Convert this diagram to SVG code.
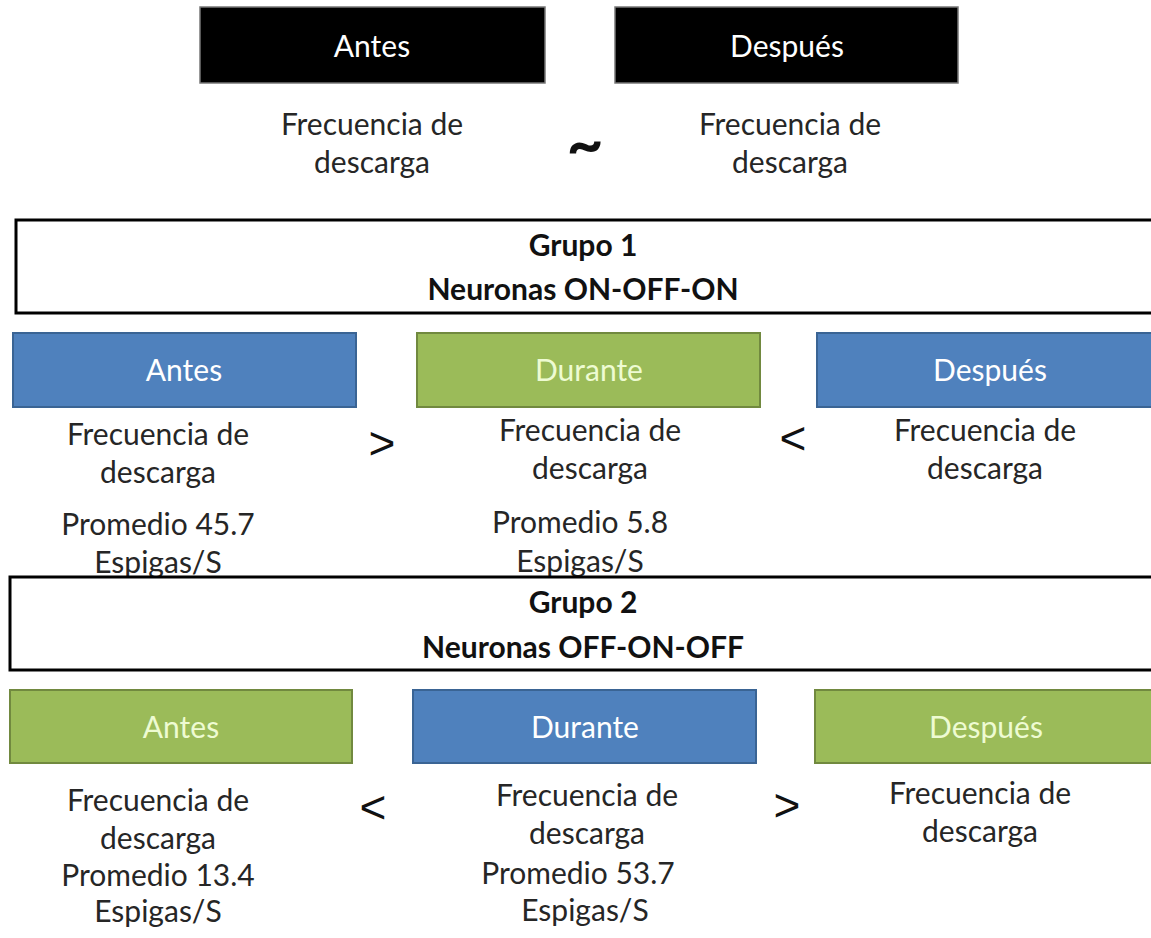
<svg xmlns="http://www.w3.org/2000/svg" width="1151" height="938" viewBox="0 0 1151 938">
<style>
text{font-family:Lato,"Open Sans","Liberation Sans",sans-serif;font-size:30px;text-anchor:middle;fill:#262626}
.lbl{fill:#ffffff}
.glbl{fill:#eefbd2}
.bold{font-weight:bold;fill:#111}
.blk{fill:#000;stroke:#777;stroke-width:1.5}
.blue{fill:#4f81bd;stroke:#3a6494;stroke-width:2}
.green{fill:#9bbb59;stroke:#71893f;stroke-width:2}
.grp{fill:#fff;stroke:#000;stroke-width:3}
.sym{font-family:"Liberation Sans",Arial,sans-serif;font-size:46px;fill:#111}
.tilde{font-size:64px;font-weight:bold;fill:#111}
</style>
<g id="top-antes">
<rect class="blk" x="200" y="7" width="345" height="76"/>
<text class="lbl" x="372" y="57">Antes</text>
<text x="372" y="135">Frecuencia de</text>
<text x="372" y="173">descarga</text>
</g>
<g id="top-despues">
<rect class="blk" x="615" y="7" width="343" height="76"/>
<text class="lbl" x="787" y="57">Después</text>
<text x="790" y="135">Frecuencia de</text>
<text x="790" y="173">descarga</text>
</g>
<g id="grupo1">
<rect class="grp" x="16" y="220" width="1145" height="93"/>
<text class="bold" x="583" y="256">Grupo 1</text>
<text class="bold" x="583" y="300">Neuronas ON-OFF-ON</text>
</g>
<g id="g1-antes">
<rect class="blue" x="13" y="333" width="343" height="74"/>
<text class="lbl" x="184" y="381">Antes</text>
<text x="158" y="445">Frecuencia de</text>
<text x="158" y="483">descarga</text>
<text x="158" y="535">Promedio 45.7</text>
<text x="158" y="573">Espigas/S</text>
</g>
<g id="g1-durante">
<rect class="green" x="417" y="333" width="343" height="74"/>
<text class="glbl" x="589" y="381">Durante</text>
<text x="590" y="441">Frecuencia de</text>
<text x="590" y="479">descarga</text>
<text x="580" y="533">Promedio 5.8</text>
<text x="580" y="572">Espigas/S</text>
</g>
<g id="g1-despues">
<rect class="blue" x="817" y="333" width="343" height="74"/>
<text class="lbl" x="990" y="381">Después</text>
<text x="985" y="441">Frecuencia de</text>
<text x="985" y="479">descarga</text>
</g>
<g id="grupo2">
<rect class="grp" x="10" y="577" width="1150" height="93"/>
<text class="bold" x="583" y="613">Grupo 2</text>
<text class="bold" x="583" y="658">Neuronas OFF-ON-OFF</text>
</g>
<g id="g2-antes">
<rect class="green" x="10" y="690" width="342" height="73"/>
<text class="glbl" x="181" y="738">Antes</text>
<text x="158" y="811">Frecuencia de</text>
<text x="158" y="849">descarga</text>
<text x="158" y="886">Promedio 13.4</text>
<text x="158" y="922">Espigas/S</text>
</g>
<g id="g2-durante">
<rect class="blue" x="413" y="690" width="343" height="73"/>
<text class="lbl" x="585" y="738">Durante</text>
<text x="587" y="806">Frecuencia de</text>
<text x="587" y="844">descarga</text>
<text x="578" y="884">Promedio 53.7</text>
<text x="585" y="921">Espigas/S</text>
</g>
<g id="g2-despues">
<rect class="green" x="815" y="690" width="343" height="73"/>
<text class="glbl" x="986" y="738">Después</text>
<text x="980" y="804">Frecuencia de</text>
<text x="980" y="842">descarga</text>
</g>
<g id="connectors">
<text class="tilde" x="585" y="166">~</text>
<text class="sym" x="382" y="459">&gt;</text>
<text class="sym" x="793" y="454">&lt;</text>
<text class="sym" x="373" y="823">&lt;</text>
<text class="sym" x="787" y="821">&gt;</text>
</g>
</svg>
